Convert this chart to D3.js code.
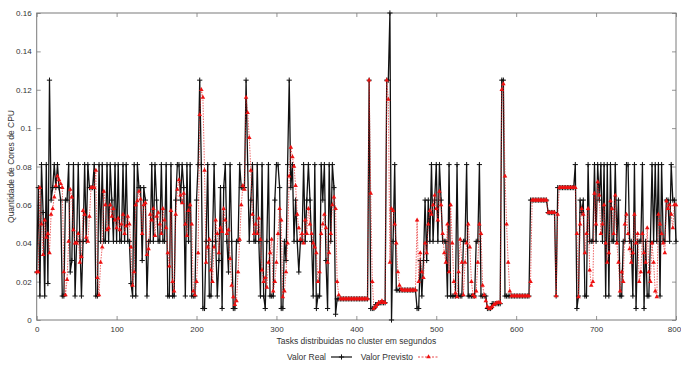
<!DOCTYPE html>
<html>
<head>
<meta charset="utf-8">
<script src="https://cdn.jsdelivr.net/npm/d3@7"></script>
<style>
html,body{margin:0;padding:0;background:#fff;}
svg{display:block;font-family:"Liberation Sans",Arial,sans-serif;}
</style>
</head>
<body>
<svg id="chart" width="681" height="365"></svg>
<script>
// Tasks (x) sampled every 2 s from 0 to 800
const tasks = d3.range(0, 801, 2);

// Valor Real (black, +)
const valorReal = [
.025,.069,.0125,.081,.056,.0125,.081,.019,.125,.0625,
.069,.081,.069,.081,.069,.0625,.0125,.0125,.0625,.0625,
.081,.025,.031,.081,.0125,.041,.081,.041,.0125,.041,
.081,.041,.081,.069,.069,.069,.081,.0125,.0125,.081,
.041,.081,.041,.041,.081,.041,.081,.0625,.041,.081,
.041,.081,.041,.041,.081,.041,.081,.041,.041,.019,
.0125,.081,.0125,.081,.069,.069,.031,.069,.0625,.0125,
.041,.041,.081,.041,.081,.0625,.041,.041,.081,.041,
.041,.081,.0125,.0125,.081,.0125,.0125,.0625,.081,.081,
.0625,.081,.069,.0125,.081,.041,.081,.0125,.0125,.0125,
.0625,.081,.125,.081,.006,.006,.041,.081,.0125,.0125,
.041,.081,.041,.0125,.031,.069,.006,.069,.081,.041,
.025,.081,.041,.006,.006,.041,.041,.081,.069,.069,
.069,.125,.081,.041,.0625,.081,.041,.041,.081,.041,
.0125,.081,.0125,.006,.041,.081,.0125,.0125,.0125,.0625,
.081,.081,.069,.006,.006,.041,.031,.081,.125,.069,
.081,.041,.0625,.041,.025,.041,.041,.081,.041,.0625,
.081,.0625,.041,.0125,.081,.006,.0125,.0125,.081,.0625,
.081,.031,.006,.081,.041,.081,.069,.003,.011,.011,
.011,.011,.011,.011,.011,.011,.011,.011,.011,.011,
.011,.011,.011,.011,.011,.011,.011,.011,.125,.006,
.006,.006,.008,.008,.009,.009,.009,.009,.009,.125,
.125,.16,0,.041,.081,.0156,.0156,.0156,.0156,.0156,
.0156,.0156,.0156,.0156,.0156,.0156,.0156,.0156,.006,.006,
.031,.0125,.031,.0625,.031,.0625,.041,.081,.041,.0625,
.081,.041,.081,.0625,.041,.041,.041,.0125,.081,.0125,
.0125,.0125,.0125,.081,.0125,.0125,.0125,.041,.041,.081,
.0125,.0125,.0125,.0125,.0125,.041,.041,.081,.0125,.0125,
.0125,.0125,.006,.006,.006,.0085,.0085,.0085,.0085,.0085,
.0085,.125,.125,.0125,.0125,.0125,.0125,.0125,.0125,.0125,
.0125,.0125,.0125,.0125,.0125,.0125,.0125,.0125,.0125,.0625,
.0625,.0625,.0625,.0625,.0625,.0625,.0625,.0625,.0625,.0625,
.056,.056,.056,.056,.056,.0125,.069,.069,.069,.069,
.069,.069,.069,.069,.069,.069,.069,.081,.006,.0125,
.0625,.056,.0625,.0125,.0125,.081,.041,.041,.041,.081,
.041,.081,.0625,.081,.041,.081,.0125,.081,.0125,.081,
.041,.041,.081,.041,.0625,.0125,.0125,.041,.041,.081,
.081,.041,.041,.0125,.081,.006,.041,.041,.041,.081,
.006,.041,.0125,.0125,.041,.081,.041,.081,.041,.081,
.0125,.081,.041,.041,.0625,.0625,.041,.081,.0625,.0625,
.041
];

// Valor Previsto (red, triangles)
const valorPrevisto = [
.025,.025,.069,.05,.034,.052,.043,.045,.035,.055,
.058,.064,.07,.075,.073,.071,.069,.025,.013,.021,
.041,.068,.064,.047,.04,.04,.045,.03,.033,.057,
.055,.043,.041,.054,.069,.069,.069,.078,.022,.013,
.03,.038,.067,.06,.047,.048,.06,.054,.058,.052,
.048,.053,.047,.05,.055,.045,.049,.054,.05,.038,
.018,.025,.06,.062,.067,.063,.045,.06,.061,.034,
.037,.055,.052,.058,.044,.054,.056,.05,.045,.058,
.052,.048,.035,.028,.057,.02,.015,.055,.068,.073,
.065,.061,.066,.05,.044,.057,.06,.05,.015,.013,
.02,.035,.107,.12,.116,.078,.03,.038,.042,.026,
.02,.038,.052,.045,.035,.048,.046,.058,.052,.045,
.047,.032,.018,.012,.008,.01,.025,.042,.06,.07,
.068,.116,.108,.095,.078,.055,.045,.05,.045,.053,
.042,.026,.02,.022,.017,.03,.035,.042,.015,.02,
.03,.045,.058,.052,.012,.015,.025,.04,.075,.09,
.085,.08,.07,.055,.048,.042,.045,.04,.052,.045,
.058,.05,.045,.04,.038,.035,.02,.025,.045,.05,
.055,.048,.03,.035,.045,.06,.064,.058,.02,.013,
.011,.011,.011,.011,.011,.011,.011,.011,.011,.011,
.011,.011,.011,.011,.011,.011,.011,.011,.125,.066,
.02,.006,.007,.008,.009,.009,.01,.009,.009,.125,
.115,.03,.058,.057,.05,.04,.025,.018,.016,.0156,
.0156,.0156,.0156,.0156,.0156,.0156,.0156,.0156,.052,.02,
.035,.025,.022,.04,.035,.05,.057,.055,.06,.065,
.058,.052,.067,.06,.045,.035,.03,.05,.025,.06,
.04,.02,.014,.012,.025,.042,.03,.013,.03,.04,
.05,.038,.02,.013,.012,.015,.03,.05,.045,.018,
.013,.01,.007,.006,.006,.007,.008,.0085,.009,.009,
.009,.12,.123,.075,.05,.03,.015,.0125,.0125,.0125,
.0125,.0125,.0125,.0125,.0125,.0125,.0125,.0125,.0125,.02,
.0625,.0625,.0625,.0625,.0625,.0625,.0625,.0625,.0625,.0625,
.056,.056,.056,.056,.056,.0125,.055,.069,.069,.069,
.069,.069,.069,.069,.069,.069,.069,.069,.045,.012,
.05,.058,.055,.035,.045,.058,.026,.018,.02,.066,
.05,.072,.065,.045,.05,.06,.04,.03,.035,.062,
.058,.045,.065,.04,.03,.015,.025,.02,.05,.055,
.045,.037,.03,.035,.055,.04,.045,.02,.025,.045,
.035,.03,.048,.025,.02,.04,.03,.015,.012,.055,
.05,.045,.04,.035,.062,.058,.06,.055,.048,.06,
.06
];

const xTicks = [0,100,200,300,400,500,600,700,800];
const yTicks = [0,0.02,0.04,0.06,0.08,0.1,0.12,0.14,0.16];
const yTickLabels = ["0","0.02","0.04","0.06","0.08","0.1","0.12","0.14","0.16"];
const seriesNames = ["Valor Real","Valor Previsto"];
const xTitle = "Tasks distribuidas no cluster em segundos";
const yTitle = "Quantidade de Cores de CPU";

const svg = d3.select("#chart");
const L = 36.7, R = 676, T = 13, B = 320;
const x = d3.scaleLinear().domain([0,800]).range([L,R]);
const y = d3.scaleLinear().domain([0,0.16]).range([B,T]);
const txt = "#333";
const frameCol = "#7a7a7a";

const realData = tasks.map((t,i)=>({x:t, y:valorReal[i]}));
const predData = tasks.map((t,i)=>({x:t, y:valorPrevisto[i]}));

// axes (inward ticks, mirrored)
const gB = svg.append("g").attr("transform",`translate(0,${B})`)
  .call(d3.axisBottom(x).tickValues(xTicks).tickSize(-4).tickPadding(6).tickFormat(d3.format("d")));
const gT = svg.append("g").attr("transform",`translate(0,${T})`)
  .call(d3.axisTop(x).tickValues(xTicks).tickSize(-4).tickFormat(""));
const gL = svg.append("g").attr("transform",`translate(${L},0)`)
  .call(d3.axisLeft(y).tickValues(yTicks).tickSize(-4).tickPadding(5).tickFormat((d,i)=>yTickLabels[i]));
const gR = svg.append("g").attr("transform",`translate(${R},0)`)
  .call(d3.axisRight(y).tickValues(yTicks).tickSize(-4).tickFormat(""));
[gB,gT,gL,gR].forEach(g=>{
  g.select(".domain").remove();
  g.selectAll(".tick line").attr("stroke",frameCol).attr("stroke-width",0.8);
  g.selectAll(".tick text").attr("fill",txt).attr("font-size",8)
   .attr("font-family","'Liberation Sans',Arial,sans-serif");
});
// keep the last x label inside the picture
gB.selectAll(".tick text").filter(d=>d===800).attr("dx",-2);

svg.append("rect").attr("x",L).attr("y",T).attr("width",R-L).attr("height",B-T)
  .attr("fill","none").attr("stroke",frameCol).attr("stroke-width",1);

const plot = svg.append("g");
const line = d3.line().x(d=>x(d.x)).y(d=>y(d.y));

const plusPath = "M-2.6,0H2.6M0,-2.6V2.6";
const tri = d3.symbol().type(d3.symbolTriangle).size(9);

// Real series
plot.append("path").datum(realData).attr("d",line)
  .attr("fill","none").attr("stroke","#111").attr("stroke-width",1.3);
plot.append("g").selectAll("path").data(realData).join("path")
  .attr("transform",d=>`translate(${x(d.x)},${y(d.y)})`)
  .attr("d",plusPath).attr("stroke","#111").attr("stroke-width",1).attr("fill","none");

// Predicted series
plot.append("path").datum(predData).attr("d",line)
  .attr("fill","none").attr("stroke","#e31a1c").attr("stroke-width",0.8)
  .attr("stroke-dasharray","1.5,1.2").attr("opacity",0.85);
plot.append("g").selectAll("path").data(predData).join("path")
  .attr("transform",d=>`translate(${x(d.x)},${y(d.y)})`)
  .attr("d",tri).attr("fill","#ee1111");

// titles
svg.append("text").attr("x",(L+R)/2).attr("y",344).attr("text-anchor","middle")
  .attr("font-size",8.5).attr("fill",txt).text(xTitle);
svg.append("text").attr("transform",`translate(14,${(T+B)/2}) rotate(-90)`)
  .attr("text-anchor","middle").attr("font-size",8.5).attr("fill",txt).text(yTitle);

// legend
const leg = svg.append("g");
leg.append("text").attr("x",326).attr("y",360).attr("text-anchor","end")
  .attr("font-size",8.5).attr("fill",txt).text(seriesNames[0]);
leg.append("line").attr("x1",331).attr("x2",352).attr("y1",357).attr("y2",357)
  .attr("stroke","#111").attr("stroke-width",1.2);
leg.append("path").attr("transform","translate(341.5,357)").attr("d",plusPath)
  .attr("stroke","#111").attr("stroke-width",1);
leg.append("text").attr("x",413).attr("y",360).attr("text-anchor","end")
  .attr("font-size",8.5).attr("fill",txt).text(seriesNames[1]);
leg.append("line").attr("x1",418).attr("x2",439).attr("y1",357).attr("y2",357)
  .attr("stroke","#e31a1c").attr("stroke-width",0.8).attr("stroke-dasharray","2,1.5");
leg.append("path").attr("transform","translate(428.5,357)").attr("d",tri).attr("fill","#ee1111");
</script>
</body>
</html>
